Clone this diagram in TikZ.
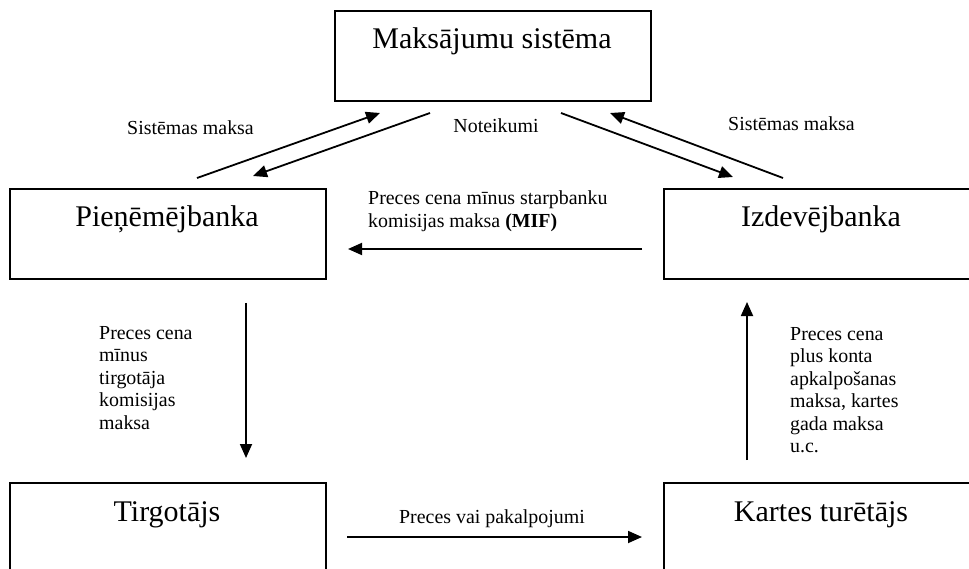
\documentclass[tikz,border=0pt]{standalone}
\usepackage{fontspec}
\setmainfont{Liberation Serif}
\usetikzlibrary{arrows.meta}
\tikzset{
  box/.style={draw, line width=1.8pt, rectangle, minimum width=316pt,
    minimum height=90pt, inner sep=0pt, anchor=north west},
  boxtext/.style={anchor=base, inner sep=0pt, font=\fontsize{30}{34}\selectfont},
  lbl/.style={anchor=base west, inner sep=0pt, font=\fontsize{19.9}{22.5}\selectfont},
  flow/.style={line width=1.8pt, -{Triangle[length=14pt,width=12pt]}}
}
\newcommand{\lines}[1]{\begin{tabular}[t]{@{}l@{}}#1\end{tabular}}
\begin{document}
\begin{tikzpicture}[x=1pt,y=-1pt]
\clip (0,0) rectangle (969,569);
\useasboundingbox (0,0) rectangle (969,569);

% participants
\node[box] (ms) at (334,10) {};
\node[box] (pb) at (9,188) {};
\node[box] (ib) at (663,188) {};
\node[box] (tg) at (9,482) {};
\node[box] (kt) at (663,482) {};

\node[boxtext] (ms-t) at (492,49) {Maksājumu sistēma};
\node[boxtext] (pb-t) at (167,227) {Pieņēmējbanka};
\node[boxtext] (ib-t) at (821,227) {Izdevējbanka};
\node[boxtext] (tg-t) at (167,521) {Tirgotājs};
\node[boxtext] (kt-t) at (821,521) {Kartes turētājs};

% connector end points
\coordinate (pb-out) at (197,178);
\coordinate (ms-in1) at (380,113);
\coordinate (ms-out1) at (430,113);
\coordinate (pb-in) at (253,176);
\coordinate (ms-out2) at (561,113);
\coordinate (ib-in) at (733,177);
\coordinate (ib-out) at (783,178);
\coordinate (ms-in2) at (610,113);
\coordinate (ib-left) at (642,249);
\coordinate (pb-right) at (348,249);
\coordinate (pb-down) at (246,303);
\coordinate (tg-up) at (246,458);
\coordinate (kt-up) at (747,460);
\coordinate (ib-down) at (747,302);
\coordinate (tg-right) at (347,537);
\coordinate (kt-left) at (642,537);

% flows
\draw[flow] (pb-out) -- (ms-in1);
\draw[flow] (ms-out1) -- (pb-in);
\draw[flow] (ms-out2) -- (ib-in);
\draw[flow] (ib-out) -- (ms-in2);
\draw[flow] (ib-left) -- (pb-right);
\draw[flow] (pb-down) -- (tg-up);
\draw[flow] (kt-up) -- (ib-down);
\draw[flow] (tg-right) -- (kt-left);

% labels
\node[lbl] (l-fee1) at (127,135) {Sistēmas maksa};
\node[lbl, anchor=base] (l-rules) at (496,133) {Noteikumi};
\node[lbl] (l-fee2) at (728,131) {Sistēmas maksa};
\node[lbl] (l-mif) at (368,205) {\lines{Preces cena mīnus starpbanku\\komisijas maksa \textbf{(MIF)}}};
\node[lbl] (l-merch) at (99,339) {\lines{Preces cena\\mīnus\\tirgotāja\\komisijas\\maksa}};
\node[lbl] (l-holder) at (790,340) {\lines{Preces cena\\plus konta\\apkalpošanas\\maksa, kartes\\gada maksa\\u.c.}};
\node[lbl, anchor=base] (l-goods) at (492,523) {Preces vai pakalpojumi};
\end{tikzpicture}
\end{document}
